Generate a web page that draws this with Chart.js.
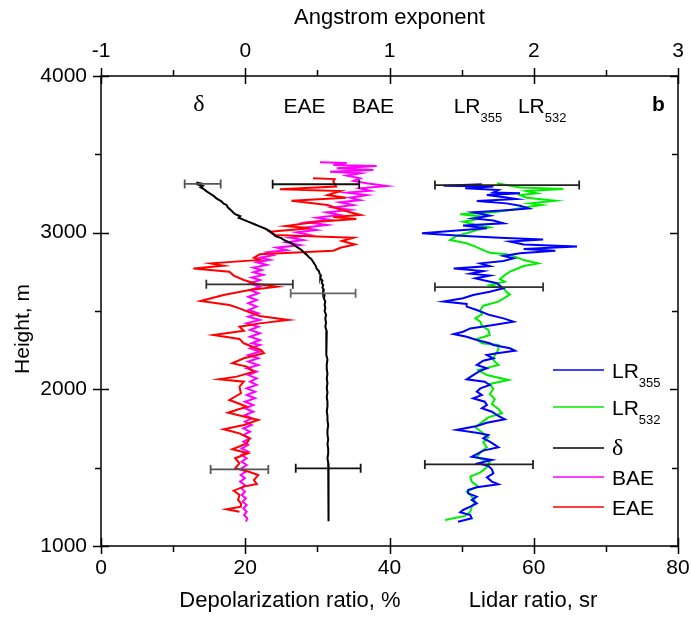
<!DOCTYPE html>
<html lang="en">
<head>
<meta charset="UTF-8">
<title>Lidar ratio, depolarization and Angstrom exponent profiles</title>
<script src="https://cdn.jsdelivr.net/npm/chart.js"></script>
<style>
  body { margin: 0; background: #fff; }
</style>
</head>
<body>
<canvas id="chart" width="691" height="619"></canvas>
<script>
// ---- data (height in m) ----
const lr355Height = [3309,3300,3294,3283,3272,3257,3251,3240,3225,3215,3202,3187,3172,3155,3145,3130,3108,3091,3077,3060,
  3045,3028,3013,2996,2981,2968,2957,2943,2925,2911,2896,2885,2868,2851,2836,2819,2804,2787,2772,2755,
  2738,2726,2708,2691,2677,2662,2645,2623,2602,2581,2560,2545,2528,2506,2474,2453,2432,2411,2389,2368,
  2353,2336,2315,2294,2283,2262,2247,2230,2219,2198,2183,2155,2134,2119,2091,2064,2049,2028,2006,1985,
  1964,1943,1921,1900,1879,1857,1836,1809,1787,1766,1741,1723,1709,1687,1666,1645,1630,1609,1587,1570,
  1549,1528,1511,1489,1464,1438,1411,1394,1375,1358,1336,1315,1294,1272,1251,1230,1215,1198,1177,1155];
const lr355 = [52.8,47.5,54.4,50.5,55.1,54.4,58.1,53.5,56.2,57.6,52.1,56.2,58.1,59.3,56.7,51.6,53.9,51.6,54.4,55.8,
  50.2,53.5,48.9,44.5,49.8,55.3,61.3,56.7,58.6,66.0,58.6,63.0,58.1,55.8,57.2,55.8,52.6,53.9,48.9,53.0,
  51.2,53.9,51.9,53.5,54.9,55.3,55.8,53.9,51.6,50.2,47.5,50.7,50.7,52.1,53.9,55.8,57.2,54.4,51.2,50.2,
  48.9,50.7,52.1,53.9,54.4,56.7,57.4,54.9,53.5,54.4,53.0,52.1,53.5,52.6,51.6,50.7,53.2,53.9,52.6,52.1,
  52.8,51.6,53.2,53.5,52.8,54.2,54.9,56.0,53.5,52.1,49.3,52.1,53.7,53.0,53.9,54.6,55.1,53.0,52.1,51.4,
  54.2,52.3,53.7,54.2,54.4,53.5,54.2,55.1,52.1,50.9,50.9,52.1,51.4,52.1,51.2,50.2,49.8,51.2,51.4,49.5];

const lr532Height = [3315,3304,3289,3279,3266,3251,3240,3223,3204,3187,3177,3160,3145,3130,3117,3102,3085,3070,3049,3034,
  3017,2996,2979,2953,2932,2911,2889,2872,2862,2847,2825,2804,2787,2768,2751,2730,2704,2687,2666,2645,
  2623,2606,2585,2560,2534,2506,2479,2453,2432,2406,2379,2347,2321,2294,2283,2251,2219,2187,2155,2123,
  2091,2060,2034,2002,1970,1938,1906,1874,1847,1821,1789,1758,1726,1694,1662,1630,1598,1566,1534,1502,
  1470,1443,1411,1379,1347,1315,1283,1251,1219,1192,1166];
const lr532 = [54.9,56.2,58.1,64.1,59.0,60.4,58.1,59.0,63.0,59.5,61.1,58.6,56.7,54.4,49.8,53.0,52.1,50.2,52.1,53.9,
  52.1,50.7,49.3,48.4,50.7,51.9,53.0,53.9,56.2,57.4,58.6,60.6,58.6,57.6,56.7,56.0,55.3,56.0,53.9,55.8,
  56.2,56.7,56.0,55.1,53.0,52.6,52.8,51.9,52.6,52.8,53.7,53.9,52.1,52.8,55.1,55.1,54.6,54.4,55.1,52.3,
  53.5,56.5,53.9,54.4,53.9,54.6,54.2,55.1,55.6,53.7,52.8,51.9,52.8,53.7,53.0,53.5,52.6,52.1,53.9,53.5,
  52.6,51.2,51.4,52.3,50.7,51.4,51.9,51.4,51.2,50.5,47.7];

const deltaHeight = [3320,3313,3306,3298,3290,3280,3265,3250,3235,3219,3200,3185,3177,3160,3145,3130,3118,3105,3095,3080,
  3070,3055,3040,3025,3010,3000,2990,2978,2965,2950,2935,2920,2905,2890,2875,2860,2845,2830,2815,2800,
  2785,2770,2755,2740,2725,2710,2695,2680,2665,2650,2635,2620,2600,2580,2560,2540,2520,2500,2475,2450,
  2425,2400,2370,2340,2310,2280,2250,2220,2190,2160,2130,2100,2070,2040,2010,1980,1950,1920,1890,1860,
  1830,1800,1770,1740,1710,1680,1650,1620,1590,1560,1530,1500,1470,1440,1410,1380,1350,1320,1290,1260,
  1230,1200,1175,1158];
const delta = [13.2,13.9,13.5,14.1,13.8,14.2,14.6,15.1,15.6,16.0,16.7,17.0,17.4,17.6,18.0,18.3,18.6,19.3,19.1,19.9,
  20.4,21.2,22.0,22.8,23.4,23.6,23.9,24.2,25.0,25.5,26.3,26.8,27.3,27.8,28.1,28.5,28.8,29.2,29.4,29.6,
  29.8,29.9,30.2,30.3,30.5,30.4,30.7,30.6,30.8,30.7,30.9,30.8,31.0,30.9,31.1,31.0,31.1,31.0,31.2,31.1,
  31.2,31.1,31.3,31.2,31.3,31.2,31.3,31.2,31.4,31.3,31.3,31.4,31.3,31.4,31.3,31.4,31.3,31.4,31.4,31.3,
  31.4,31.4,31.5,31.4,31.4,31.5,31.4,31.5,31.5,31.4,31.5,31.5,31.6,31.5,31.6,31.5,31.6,31.5,31.6,31.5,
  31.6,31.5,31.6,31.5];

const baeHeight = [3449,3445,3432,3425,3411,3400,3389,3379,3364,3347,3330,3315,3298,3283,3268,3255,3240,3223,3208,3194,
  3177,3160,3145,3130,3113,3096,3081,3066,3049,3032,3017,3002,2985,2968,2953,2938,2921,2904,2889,2874,
  2857,2840,2826,2811,2794,2777,2762,2747,2730,2713,2698,2677,2655,2634,2613,2591,2570,2549,2528,2506,
  2485,2464,2443,2421,2400,2379,2358,2336,2315,2294,2283,2262,2240,2219,2198,2177,2155,2134,2113,2091,
  2070,2049,2028,2006,1985,1964,1943,1921,1900,1879,1857,1836,1815,1794,1772,1751,1730,1709,1687,1666,
  1645,1623,1602,1581,1560,1538,1517,1496,1475,1453,1432,1411,1389,1368,1347,1326,1304,1283,1262,1241,
  1219,1198,1177,1155];
const bae = [0.518,0.703,0.611,0.911,0.634,0.888,0.588,0.796,0.703,0.796,0.749,0.842,0.980,0.796,0.865,0.703,0.842,0.726,0.796,0.657,
  0.749,0.611,0.726,0.565,0.657,0.495,0.588,0.426,0.565,0.403,0.495,0.356,0.449,0.310,0.403,0.287,0.380,0.218,0.287,0.149,
  0.195,0.102,0.172,0.079,0.149,0.056,0.114,0.056,0.125,0.045,0.102,0.033,0.102,0.033,0.091,0.021,0.079,0.021,0.079,0.021,
  0.091,0.021,0.102,0.010,0.091,0.033,0.102,0.033,0.102,0.045,0.102,0.033,0.102,0.021,0.091,0.021,0.091,0.010,0.079,0.021,
  0.079,0.033,0.079,0.010,0.068,0.010,0.068,-0.002,0.056,-0.002,0.056,-0.002,0.045,-0.002,0.045,-0.013,0.033,-0.013,0.033,-0.013,
  0.021,-0.025,0.021,-0.025,0.010,-0.025,0.010,-0.025,0.005,-0.032,-0.002,-0.036,-0.002,-0.025,-0.002,-0.025,0.005,-0.018,0.010,-0.013,
  0.010,-0.009,0.014,0.005];

const eaeHeight = [3347,3342,3326,3294,3277,3266,3240,3223,3204,3177,3145,3113,3100,3087,3070,3042,3028,3006,2985,2968,
  2947,2925,2904,2885,2862,2840,2826,2804,2789,2772,2751,2726,2698,2672,2655,2634,2602,2564,2538,2517,
  2491,2468,2443,2421,2400,2374,2347,2321,2294,2272,2250,2230,2198,2166,2145,2113,2081,2064,2049,2017,
  1975,1932,1911,1889,1851,1826,1804,1772,1745,1719,1687,1655,1617,1592,1560,1528,1496,1475,1453,1421,
  1396,1379,1353,1326,1294,1272,1251,1234,1219];
const eae = [0.47,0.62,0.61,0.63,0.24,0.66,0.57,0.70,0.32,0.57,0.67,0.80,0.61,0.77,0.50,0.28,0.45,0.17,0.21,0.75,
  0.67,0.76,0.66,0.61,0.10,0.06,0.10,-0.24,-0.15,-0.36,-0.11,-0.08,-0.01,0.08,0.22,0.03,-0.15,-0.31,-0.11,-0.04,
  0.03,0.10,0.30,0.10,-0.04,-0.01,-0.22,-0.04,-0.01,0.05,0.11,0.13,-0.01,-0.09,0.01,0.06,-0.06,-0.18,-0.01,-0.04,
  -0.03,-0.11,-0.05,0.01,-0.12,-0.01,0.09,-0.01,-0.15,-0.04,0.03,0.01,-0.09,0.02,-0.07,-0.04,-0.07,0.02,0.09,0.06,
  0.08,-0.01,-0.08,-0.04,-0.05,-0.03,-0.03,-0.13,-0.04];

// error bars: height, centre, half width
const deltaErrHeight = [3311, 2613, 1496];
const deltaErrCenter = [14.1, 30.8, 31.5];
const deltaErrHalf = [2.5, 4.5, 4.5];
const aeErrHeight = [3309, 2670, 1489];
const aeErrCenter = [0.49, 0.03, -0.04];
const aeErrHalf = [0.30, 0.30, 0.20];
const lrErrHeight = [3304, 2653, 1521];
const lrErrCenter = [56.3, 53.8, 52.4];
const lrErrHalf = [10.0, 7.5, 7.5];

const yTicks = [1000, 2000, 3000, 4000];
const yMinor = [1500, 2500, 3500];
const xTicks = [0, 20, 40, 60, 80];
const xMinor = [10, 30, 50, 70];
const aeTicks = [-1, 0, 1, 2, 3];
const aeMinor = [-0.5, 0.5, 1.5, 2.5];

// ---- styling ----
const FONT = '"Liberation Sans", Arial, sans-serif';
const SERIF = '"Liberation Serif", "DejaVu Serif", serif';
const errColors = { delta: ['#555', '#666', '#111'], ae: ['#111', '#333', '#555'], lr: ['#222', '#333', '#222'] };

function pts(hs, vs) {
  return hs.map((h, i) => ({ x: vs[i], y: h }));
}

function drawLR(ctx, x, base, sub, size) {
  ctx.font = size + 'px ' + FONT;
  ctx.textAlign = 'left';
  ctx.textBaseline = 'alphabetic';
  ctx.fillText('LR', x, base);
  const w = ctx.measureText('LR').width;
  ctx.font = Math.round(size * 0.62) + 'px ' + FONT;
  ctx.fillText(sub, x + w, base + 9);
}

// frame + ticks (major ticks cross the axis, minor ones point out)
const frame = {
  id: 'frame',
  afterDraw(chart) {
    const { ctx, chartArea: a, scales } = chart;
    ctx.save();
    ctx.strokeStyle = '#000';
    ctx.lineWidth = 1.5;
    ctx.strokeRect(a.left, a.top, a.right - a.left, a.bottom - a.top);
    ctx.beginPath();
    yTicks.forEach(v => {
      const p = Math.round(scales.y.getPixelForValue(v)) + 0.5;
      ctx.moveTo(a.left - 8, p); ctx.lineTo(a.left + 8, p);
      ctx.moveTo(a.right - 8, p); ctx.lineTo(a.right, p);
    });
    yMinor.forEach(v => {
      const p = Math.round(scales.y.getPixelForValue(v)) + 0.5;
      ctx.moveTo(a.left - 6, p); ctx.lineTo(a.left, p);
      ctx.moveTo(a.right - 6, p); ctx.lineTo(a.right, p);
    });
    xTicks.forEach(v => {
      const p = Math.round(scales.x.getPixelForValue(v)) + 0.5;
      ctx.moveTo(p, a.bottom - 8); ctx.lineTo(p, a.bottom + 8);
    });
    xMinor.forEach(v => {
      const p = Math.round(scales.x.getPixelForValue(v)) + 0.5;
      ctx.moveTo(p, a.bottom); ctx.lineTo(p, a.bottom + 6);
    });
    aeTicks.forEach(v => {
      const p = Math.round(scales.x2.getPixelForValue(v)) + 0.5;
      ctx.moveTo(p, a.top - 8); ctx.lineTo(p, a.top + 8);
    });
    aeMinor.forEach(v => {
      const p = Math.round(scales.x2.getPixelForValue(v)) + 0.5;
      ctx.moveTo(p, a.top - 6); ctx.lineTo(p, a.top);
    });
    ctx.stroke();
    ctx.restore();
  }
};

const errorBars = {
  id: 'errorBars',
  afterDatasetsDraw(chart) {
    const { ctx, scales } = chart;
    const groups = [
      [scales.x, deltaErrHeight, deltaErrCenter, deltaErrHalf, errColors.delta],
      [scales.x2, aeErrHeight, aeErrCenter, aeErrHalf, errColors.ae],
      [scales.x, lrErrHeight, lrErrCenter, lrErrHalf, errColors.lr]
    ];
    ctx.save();
    ctx.lineWidth = 1.8;
    groups.forEach(([sx, hs, cs, ws, cols]) => {
      hs.forEach((h, i) => {
        const y = scales.y.getPixelForValue(h);
        const x1 = sx.getPixelForValue(cs[i] - ws[i]);
        const x2 = sx.getPixelForValue(cs[i] + ws[i]);
        ctx.strokeStyle = cols[i];
        ctx.beginPath();
        ctx.moveTo(x1, y); ctx.lineTo(x2, y);
        ctx.moveTo(x1, y - 4.5); ctx.lineTo(x1, y + 4.5);
        ctx.moveTo(x2, y - 4.5); ctx.lineTo(x2, y + 4.5);
        ctx.stroke();
      });
    });
    ctx.restore();
  }
};

// axis titles, in-plot labels and the legend
const texts = {
  id: 'texts',
  afterDraw(chart) {
    const { ctx, chartArea: a, scales } = chart;
    ctx.save();
    ctx.fillStyle = '#000';
    ctx.textBaseline = 'middle';
    ctx.textAlign = 'center';
    ctx.font = '22px ' + FONT;
    ctx.fillText('Angstrom exponent', (a.left + a.right) / 2, 18);
    ctx.fillText('Depolarization ratio, %', scales.x.getPixelForValue(26.2), a.bottom + 55);
    ctx.fillText('Lidar ratio, sr', scales.x.getPixelForValue(59.9), a.bottom + 55);
    ctx.save();
    ctx.translate(23, (a.top + a.bottom) / 2 + 18);
    ctx.rotate(-Math.PI / 2);
    ctx.font = '21px ' + FONT;
    ctx.fillText('Height, m', 0, 0);
    ctx.restore();

    // labels inside the plot
    const base = a.top + 37;
    ctx.textBaseline = 'alphabetic';
    ctx.textAlign = 'left';
    ctx.font = '24px ' + SERIF;
    ctx.fillText('\u03b4', scales.x.getPixelForValue(12.8), base - 2);
    ctx.font = '21px ' + FONT;
    ctx.fillText('EAE', scales.x.getPixelForValue(25.3), base);
    ctx.fillText('BAE', scales.x.getPixelForValue(34.8), base);
    drawLR(ctx, scales.x.getPixelForValue(48.9), base, '355', 21);
    drawLR(ctx, scales.x.getPixelForValue(57.8), base, '532', 21);
    ctx.font = 'bold 21px ' + FONT;
    ctx.fillText('b', scales.x.getPixelForValue(76.4), base - 2);

    // legend
    const rowY = [294, 331, 372, 401, 431];
    chart.data.datasets.forEach((ds, i) => {
      const y = a.top + rowY[i];
      ctx.strokeStyle = ds.borderColor;
      ctx.lineWidth = 1.6;
      ctx.beginPath();
      ctx.moveTo(a.right - 125, y); ctx.lineTo(a.right - 74, y);
      ctx.stroke();
      const tx = a.right - 66;
      if (ds.label.startsWith('LR')) {
        drawLR(ctx, tx, y + 8, ds.label.slice(2), 21);
      } else if (ds.label === '\u03b4') {
        ctx.font = '24px ' + SERIF;
        ctx.fillText(ds.label, tx, y + 7);
      } else {
        ctx.font = '21px ' + FONT;
        ctx.fillText(ds.label, tx, y + 8);
      }
    });
    ctx.restore();
  }
};

const tickFont = { size: 21, family: FONT };

new Chart(document.getElementById('chart'), {
  type: 'scatter',
  data: {
    datasets: [
      { label: 'LR355', data: pts(lr355Height, lr355), xAxisID: 'x', borderColor: '#0000ff', order: 0 },
      { label: 'LR532', data: pts(lr532Height, lr532), xAxisID: 'x', borderColor: '#00ee00', order: 1 },
      { label: '\u03b4', data: pts(deltaHeight, delta), xAxisID: 'x', borderColor: '#000000', order: 0 },
      { label: 'BAE', data: pts(baeHeight, bae), xAxisID: 'x2', borderColor: '#ff00ff', order: 3 },
      { label: 'EAE', data: pts(eaeHeight, eae), xAxisID: 'x2', borderColor: '#ff0000', order: 2 }
    ]
  },
  options: {
    responsive: false,
    animation: false,
    datasets: { scatter: { showLine: true, pointRadius: 0, borderWidth: 2, tension: 0, fill: false } },
    layout: { padding: 0 },
    plugins: { legend: { display: false }, tooltip: { enabled: false } },
    scales: {
      x: {
        type: 'linear', position: 'bottom', min: 0, max: 80,
        ticks: { stepSize: 20, padding: 10, color: '#000', font: tickFont, callback: v => String(v) },
        grid: { display: false, drawTicks: false }, border: { display: false },
        afterFit: s => { s.height = 73; s.paddingRight = 13; }
      },
      x2: {
        type: 'linear', position: 'top', min: -1, max: 3,
        ticks: { stepSize: 1, padding: 12, color: '#000', font: tickFont, callback: v => String(v) },
        grid: { display: false, drawTicks: false }, border: { display: false },
        afterFit: s => { s.height = 76; s.paddingRight = 13; }
      },
      y: {
        type: 'linear', position: 'left', min: 1000, max: 4000,
        ticks: { stepSize: 1000, padding: 14, color: '#000', font: tickFont, callback: v => String(v) },
        grid: { display: false, drawTicks: false }, border: { display: false },
        afterFit: s => { s.width = 101; }
      }
    }
  },
  plugins: [frame, errorBars, texts]
});
</script>
</body>
</html>
